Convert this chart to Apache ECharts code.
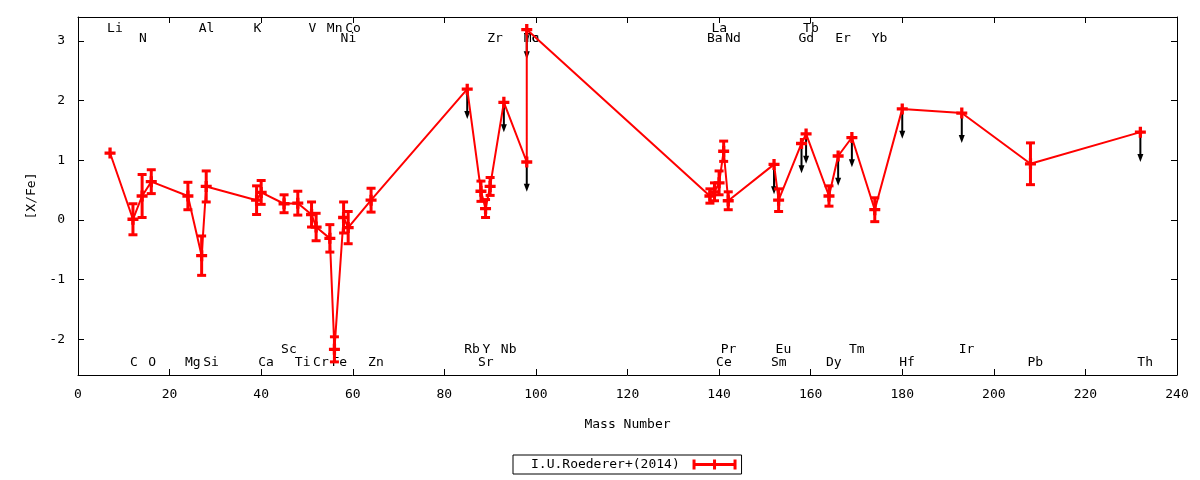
<!DOCTYPE html>
<html>
<head>
<meta charset="utf-8">
<title>[X/Fe] vs Mass Number</title>
<script src="https://cdn.jsdelivr.net/npm/echarts@6.0.0/dist/echarts.min.js"></script>
<style>
  html, body { margin: 0; padding: 0; background: #fff; }
  #chart { width: 1200px; height: 480px; }
</style>
</head>
<body>
<div id="chart"></div>
<script>
// element data, ordered as drawn by the line
const elements = ['Li','C','N','O','Mg','Al','Si','K','Ca','Sc','Ti','V','Cr','Mn','Fe','Ni','Co','Zn',
  'Rb','Sr','Y','Zr','Nb','Mo','Tc','Ba','La','Ce','Pr','Nd','Sm','Eu','Gd','Tb','Dy','Er','Tm','Yb',
  'Hf','Ir','Pb','Th']
const massNumbers = [7,12,14,16,24,27,28,39,40,45,48,51,52,55,56,58,59,64,
  85,88,89,90,93,98,98,138,139,140,141,142,152,153,158,159,164,166,169,174,
  180,193,208,232]
const abundances = [1.12,0.01,0.40,0.64,0.40,-0.60,0.56,0.33,0.46,0.27,0.28,0.09,-0.12,-0.31,-2.17,0.04,-0.13,0.33,
  2.19,0.48,0.19,0.56,1.97,0.97,3.19,0.40,0.47,0.62,1.15,0.32,0.93,0.33,1.28,1.44,0.40,1.07,1.38,0.17,
  1.86,1.79,0.94,1.47]
const errors = [0,0.26,0.36,0.20,0.23,0.33,0.26,0.24,0.20,0.15,0.20,0.21,0.23,0.23,0.21,0.26,0.27,0.20,
  0,0.17,0.15,0.15,0,0,0,0.12,0.15,0.20,0.17,0.15,0,0.19,0,0,0.17,0,0,0.20,
  0,0,0.35,0]
// 1 = upper limit (drawn with a down arrow)
const upperLimit = [0,0,0,0,0,0,0,0,0,0,0,0,0,0,0,0,0,0,
  1,0,0,0,1,1,1,0,0,0,0,0,1,0,1,1,0,1,1,0,
  1,1,0,1]
// which text row the element name sits in (t = top, b = bottom)
const labelRow = ['t1','b2','t2','b2','b2','t1','b2','t1','b2','b1','b2','t1','b2','t1','b2','t2','t1','b2',
  'b1','b2','b1','t2','b1','t2','t2','t2','t1','b2','b1','t2','b2','b1','t2','t1','b2','t2','b1','t2',
  'b2','b1','b2','b2']
const yTicks = [-2, -1, 0, 1, 2, 3]

const FONT = 'DejaVu Sans Mono'
const RED = '#ff0000'
const rowY = { t1: 3.21, t2: 3.04, b1: -2.17, b2: -2.39 }
const ulLength = 0.5

const lineData = massNumbers.map((m, i) => [m, abundances[i]])
const errData = []
const ulData = []
massNumbers.forEach((m, i) => {
  if (upperLimit[i]) ulData.push([m, abundances[i]])
  else if (errors[i] > 0) errData.push([m, abundances[i], errors[i]])
})
const labelData = massNumbers.map((m, i) => [m, rowY[labelRow[i]]])

const chart = echarts.init(document.getElementById('chart'))

const plusSymbol = 'path://M3.5,0h3v10h-3z M0,3.5h10v3h-10z'
const legendIcon = 'path://M0,3.5h44v3h-44z M0,0h3v10h-3z M41,0h3v10h-3z M20.5,0h3v10h-3z'

const axisBase = {
  axisLine: { show: true, onZero: false, lineStyle: { color: '#000', width: 1 } },
  axisTick: { show: true, inside: true, length: 6, lineStyle: { color: '#000' } },
  splitLine: { show: false }
}

chart.setOption({
  animation: false,
  backgroundColor: '#fff',
  textStyle: { fontFamily: FONT },
  grid: { left: 78, right: 23, top: 17, bottom: 105 },
  legend: {
    data: [{ name: 'I.U.Roederer+(2014)', icon: legendIcon }],
    left: 513,
    top: 455,
    align: 'right',
    itemWidth: 44,
    itemHeight: 10,
    padding: [3, 5, 3, 18],
    borderColor: '#000',
    borderWidth: 1,
    borderRadius: 0,
    selectedMode: false,
    // trailing space leaves the gap gnuplot puts before the sample
    formatter: name => name + ' ',
    textStyle: { fontFamily: FONT, fontSize: 13, color: '#000' }
  },
  xAxis: [
    Object.assign({}, axisBase, {
      type: 'value', min: 0, max: 240, interval: 20, position: 'bottom',
      name: 'Mass Number', nameLocation: 'middle', nameGap: 43,
      nameTextStyle: { fontFamily: FONT, fontSize: 13, color: '#000' },
      axisLabel: { margin: 13, fontFamily: FONT, fontSize: 13, color: '#000' }
    }),
    Object.assign({}, axisBase, {
      type: 'value', min: 0, max: 240, interval: 20, position: 'top',
      axisLabel: { show: false }
    })
  ],
  yAxis: [
    Object.assign({}, axisBase, {
      type: 'value', min: -2.6, max: 3.4, position: 'left',
      name: '[X/Fe]', nameLocation: 'middle', nameGap: 38,
      nameTextStyle: { fontFamily: FONT, fontSize: 13, color: '#000' },
      axisTick: { show: true, inside: true, length: 6, customValues: yTicks, lineStyle: { color: '#000' } },
      axisLabel: { margin: 13, fontFamily: FONT, fontSize: 13, color: '#000', customValues: yTicks }
    }),
    Object.assign({}, axisBase, {
      type: 'value', min: -2.6, max: 3.4, position: 'right',
      axisTick: { show: true, inside: true, length: 6, customValues: yTicks, lineStyle: { color: '#000' } },
      axisLabel: { show: false }
    })
  ],
  series: [
    {
      // element names
      type: 'custom',
      name: 'labels',
      z: 1,
      silent: true,
      data: labelData,
      renderItem: function (params, api) {
        const p = api.coord([api.value(0), api.value(1)])
        return {
          type: 'text',
          x: p[0] - 3,
          y: p[1],
          style: {
            text: elements[params.dataIndex],
            font: '13px "' + FONT + '"',
            fill: '#000',
            align: 'left',
            verticalAlign: 'middle'
          }
        }
      }
    },
    {
      // upper limit arrows
      type: 'custom',
      name: 'limits',
      z: 2,
      silent: true,
      data: ulData,
      renderItem: function (params, api) {
        const x = api.value(0), y = api.value(1)
        const a = api.coord([x, y])
        const b = api.coord([x, y - ulLength])
        return {
          type: 'group',
          children: [
            { type: 'line', shape: { x1: a[0], y1: a[1], x2: b[0], y2: b[1] - 6 }, style: { stroke: '#000', lineWidth: 2 } },
            { type: 'polygon', shape: { points: [[b[0] - 3, b[1] - 8], [b[0] + 3, b[1] - 8], [b[0], b[1]]] }, style: { fill: '#000' } }
          ]
        }
      }
    },
    {
      // error bars
      type: 'custom',
      name: 'errors',
      z: 3,
      silent: true,
      data: errData,
      renderItem: function (params, api) {
        const x = api.value(0), y = api.value(1), e = api.value(2)
        const t = api.coord([x, y + e])
        const b = api.coord([x, y - e])
        const hw = 4.5
        const st = { stroke: RED, lineWidth: 3 }
        return {
          type: 'group',
          children: [
            { type: 'line', shape: { x1: t[0], y1: t[1], x2: b[0], y2: b[1] }, style: st },
            { type: 'line', shape: { x1: t[0] - hw, y1: t[1], x2: t[0] + hw, y2: t[1] }, style: st },
            { type: 'line', shape: { x1: b[0] - hw, y1: b[1], x2: b[0] + hw, y2: b[1] }, style: st }
          ]
        }
      }
    },
    {
      type: 'line',
      name: 'I.U.Roederer+(2014)',
      z: 4,
      data: lineData,
      color: RED,
      symbol: plusSymbol,
      symbolSize: 11,
      showAllSymbol: true,
      lineStyle: { color: RED, width: 2 },
      itemStyle: { color: RED }
    }
  ]
})
</script>
</body>
</html>
